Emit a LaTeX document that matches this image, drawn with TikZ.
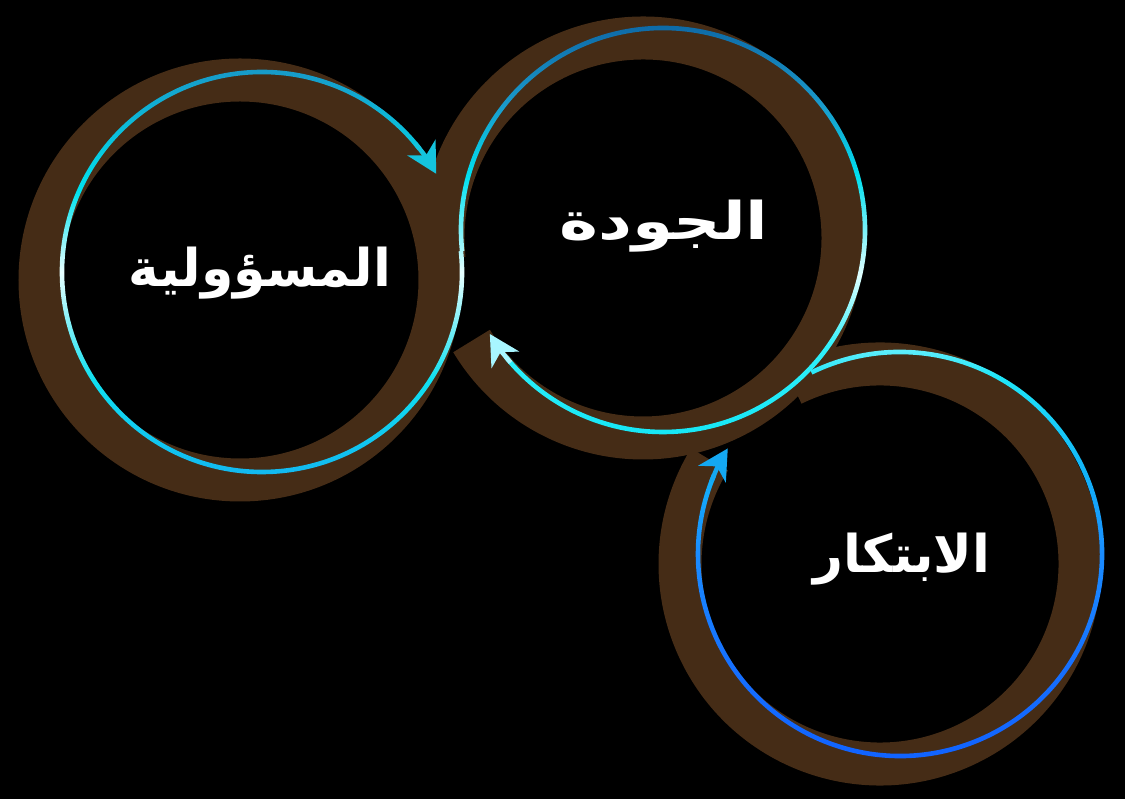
\documentclass[tikz,border=0pt]{standalone}
\usepackage{fontspec}
\usetikzlibrary{calc,arrows.meta}
\TeXXeTstate=1
\newfontfamily\arabicfont[Script=Arabic]{DejaVu Sans}
\definecolor{brownsh}{HTML}{452C16}
% left ring gradient
\definecolor{L0}{HTML}{12B0F0}
\definecolor{L1}{HTML}{10E0F0}
\definecolor{L2}{HTML}{E8FFFF}
\definecolor{L3}{HTML}{00E2EE}
\definecolor{L4}{HTML}{1B8EC2}
% middle ring gradient
\definecolor{M0}{HTML}{10E4F5}
\definecolor{M1}{HTML}{30F0FA}
\definecolor{M2}{HTML}{E0FFFF}
\definecolor{M3}{HTML}{00E0F0}
\definecolor{M4}{HTML}{1A9ACB}
\definecolor{M5}{HTML}{0B5E9E}
% right ring gradient
\definecolor{R0}{HTML}{0F5FFF}
\definecolor{R1}{HTML}{1670FF}
\definecolor{R2}{HTML}{1A8CFF}
\definecolor{R3}{HTML}{12B4F8}
\definecolor{R4}{HTML}{20E6F8}
\definecolor{R5}{HTML}{A0F5FF}
% arrow colours
\definecolor{arrL}{HTML}{14C4DE}
\definecolor{arrM}{HTML}{A8F6FF}
\definecolor{arrR}{HTML}{14A8F2}
\pgfdeclareverticalshading{gradL}{100bp}{color(0bp)=(L0); color(25bp)=(L0); color(38bp)=(L1); color(50bp)=(L2); color(59bp)=(L3); color(75bp)=(L4); color(100bp)=(L4)}
\pgfdeclareverticalshading{gradM}{100bp}{color(0bp)=(M0); color(25bp)=(M0); color(37bp)=(M1); color(45bp)=(M2); color(56bp)=(M3); color(64bp)=(M4); color(75bp)=(M5); color(100bp)=(M5)}
\pgfdeclareverticalshading{gradR}{100bp}{color(0bp)=(R0); color(25bp)=(R0); color(38bp)=(R1); color(50bp)=(R2); color(59bp)=(R3); color(69bp)=(R4); color(75bp)=(R5); color(100bp)=(R5)}
\tikzset{
  shadowarc/.style={draw=brownsh, line width=43pt},
  ringtip/.style={line width=4.5pt, -{Stealth[length=30pt,width=32pt,inset=9pt]}},
  label/.style={text=white, font=\arabicfont\bfseries\fontsize{52}{56}\selectfont, inner sep=0pt}
}
% #1 centre, #2 radius, #3 start, #4 end, #5 shading
\newcommand{\gradring}[5]{%
  \shade[shading=#5] ($(#1)+(#3:#2+2.3)$) arc[start angle=#3, end angle=#4, radius=#2+2.3]
    -- ($(#1)+(#4:#2-2.3)$) arc[start angle=#4, end angle=#3, radius=#2-2.3] -- cycle;}
\begin{document}
\begin{tikzpicture}[x=1pt,y=1pt]
\fill[black] (0,0) rectangle (1125,799);
\useasboundingbox (0,0) rectangle (1125,799);
% centres of the blue rings
\coordinate (cL) at (262,527);
\coordinate (cM) at (663,569);
\coordinate (cR) at (900,245);
% centres of the brown shadows
\coordinate (bL) at (240,519);
\coordinate (bM) at (643,561);
\coordinate (bR) at (880,235);
% brown shadows
\draw[shadowarc] (bL) circle[radius=200];
\draw[shadowarc] ($(bM)+(186:200)$) arc[start angle=186, end angle=-149, radius=200];
\draw[shadowarc] ($(bR)+(116:200)$) arc[start angle=116, end angle=-211.5, radius=200];
% gradient rings
\gradring{cL}{200}{6}{-322}{gradL}
\gradring{cM}{202}{186}{-141}{gradM}
\gradring{cR}{202}{116}{-203}{gradR}
% arrow ends
\draw[ringtip, arrL] ($(cL)+(-320:200)$) arc[start angle=-320, end angle=-330.6, radius=200];
\draw[ringtip, arrM] ($(cM)+(-139:202)$) arc[start angle=-139, end angle=-149, radius=202];
\draw[ringtip, arrR] ($(cR)+(-201:202)$) arc[start angle=-201, end angle=-211.5, radius=202];
% labels
\node[label] (tresp) at (260,526) {\beginR المسؤولية\endR};
\node[label, xscale=1.27] (tqual) at (664,573) {\beginR الجودة\endR};
\node[label] (tinno) at (902,240) {\beginR الابتكار\endR};
\end{tikzpicture}
\end{document}
